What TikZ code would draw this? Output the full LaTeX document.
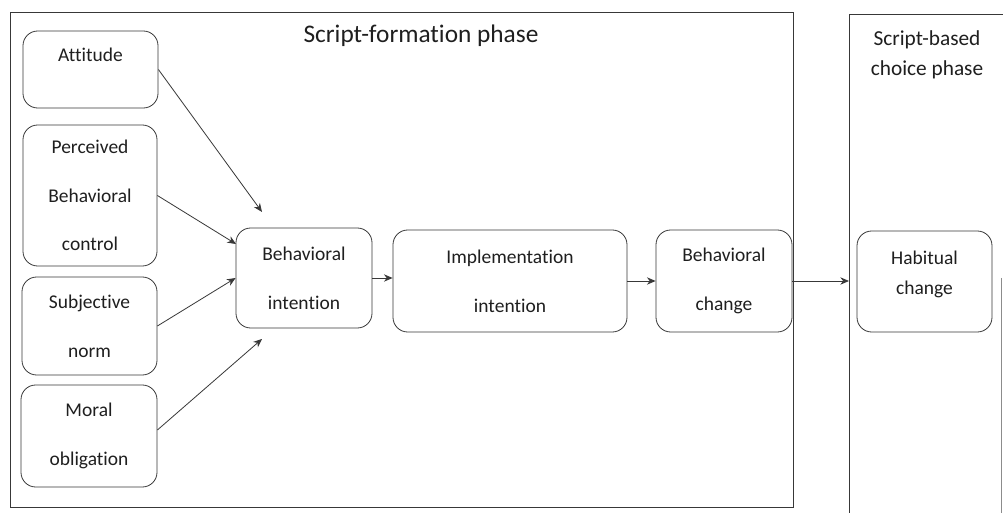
\documentclass[tikz,border=0pt]{standalone}
\usepackage{fontspec}
\setmainfont{Carlito}[Ligatures=NoCommon]
\usetikzlibrary{arrows.meta}
\begin{document}
\begin{tikzpicture}[x=0.75pt,y=-0.75pt,
  line/.style={draw=black!78, line width=0.6pt},
  box/.style={line, rounded corners=11pt, inner sep=0pt, align=center,
    font=\fontsize{14.6}{36.5}\selectfont, text=black!88},
  arr/.style={line, -{Stealth[length=6.5pt,width=5.5pt]}},
  phase/.style={line, inner sep=0pt},
  title/.style={inner sep=0pt, text=black!88},
]
\useasboundingbox (0,0) rectangle (1003,513);
\fill[white] (0,0) rectangle (1003,513);
% phase frames
\node[phase, minimum width=587.25pt, minimum height=371.25pt] (p1) at (401.5,259.5) {};
\node[title, font=\fontsize{19}{23}\selectfont, anchor=base] (t1) at (421,43) {Script-formation phase};
\draw[line] (1003,14) -- (849,14) -- (849,513);
\coordinate (p2w) at (849,281);
\node[title, font=\fontsize{16}{23}\selectfont, align=center, anchor=north] (t2) at (927,30) {Script-based\\choice phase};
\draw[black!45, line width=0.5pt] (1001,278) -- (1001,513);
% boxes
\node[box, text height=23.25pt, text depth=34.5pt, minimum width=101.25pt] (att) at (90.5,69.5) {Attitude};
\node[box, minimum width=100.5pt, minimum height=105.75pt] (pbc) at (90,195.5) {Perceived\\Behavioral\\control};
\node[box, minimum width=101.25pt, minimum height=73.5pt] (sn) at (89.5,326) {Subjective\\norm};
\node[box, minimum width=102pt, minimum height=76.5pt] (mo) at (89,436) {Moral\\obligation};
\node[box, minimum width=102pt, minimum height=75pt] (bi) at (304,278) {Behavioral\\intention};
\node[box, minimum width=175.5pt, minimum height=76.5pt] (ii) at (510,281) {Implementation\\intention};
\node[box, minimum width=102pt, minimum height=76.5pt] (bc) at (724,281) {Behavioral\\change};
\node[box, minimum width=101.25pt, minimum height=75.75pt, text depth=13pt, font=\fontsize{14.6}{22.5}\selectfont] (hc) at (924.5,281.5) {Habitual\\change};
% arrows
\coordinate (a1) at (262,212);
\coordinate (a2) at (236,244);
\coordinate (a4) at (262,339);
\draw[arr] (att.east) -- (a1);
\draw[arr] (pbc.east) -- (a2);
\draw[arr] (sn.east) -- (bi.west);
\draw[arr] ([yshift=4.5pt]mo.east) -- (a4);
\draw[arr] (bi.east) -- (bi.east -| ii.west);
\draw[arr] (ii.east) -- (bc.west);
\draw[arr] (bc.east) -- (p2w);
\end{tikzpicture}
\end{document}
